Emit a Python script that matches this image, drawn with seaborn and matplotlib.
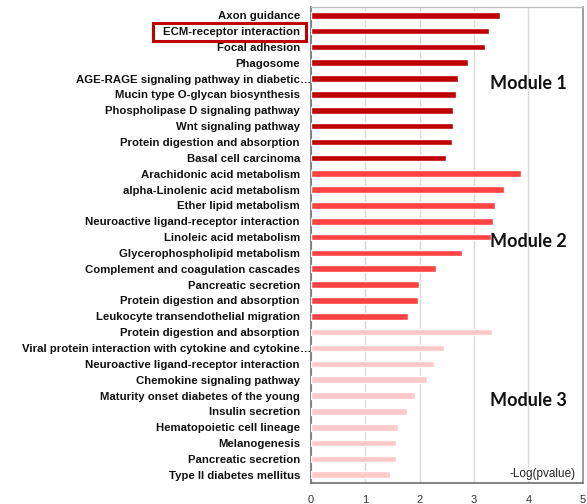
import matplotlib
matplotlib.use("Agg")
import matplotlib.pyplot as plt
import seaborn as sns
import pandas as pd
from matplotlib.patches import Rectangle

# KEGG pathway enrichment per co-expression module
module1_terms = [
    "Axon guidance", "ECM-receptor interaction", "Focal adhesion", "Phagosome",
    "AGE-RAGE signaling pathway in diabetic\u2026", "Mucin type O-glycan biosynthesis",
    "Phospholipase D signaling pathway", "Wnt signaling pathway",
    "Protein digestion and absorption", "Basal cell carcinoma",
]
module1_values = [3.47, 3.28, 3.20, 2.89, 2.71, 2.67, 2.62, 2.62, 2.60, 2.48]

module2_terms = [
    "Arachidonic acid metabolism", "alpha-Linolenic acid metabolism",
    "Ether lipid metabolism", "Neuroactive ligand-receptor interaction",
    "Linoleic acid metabolism", "Glycerophospholipid metabolism",
    "Complement and coagulation cascades", "Pancreatic secretion",
    "Protein digestion and absorption", "Leukocyte transendothelial migration",
]
module2_values = [3.87, 3.55, 3.38, 3.35, 3.32, 2.77, 2.30, 1.99, 1.97, 1.78]

module3_terms = [
    "Protein digestion and absorption",
    "Viral protein interaction with cytokine and cytokine\u2026",
    "Neuroactive ligand-receptor interaction", "Chemokine signaling pathway",
    "Maturity onset diabetes of the young", "Insulin secretion",
    "Hematopoietic cell lineage", "Melanogenesis", "Pancreatic secretion",
    "Type II diabetes mellitus",
]
module3_values = [3.33, 2.45, 2.27, 2.14, 1.92, 1.76, 1.61, 1.57, 1.57, 1.46]

module_names = ["Module 1", "Module 2", "Module 3"]
module_colors = ["#C00000", "#FF4242", "#FFC9C9"]
x_ticks = [0, 1, 2, 3, 4, 5]
highlight_term = "ECM-receptor interaction"
ELLIPSIS = "\u2026"

terms = module1_terms + module2_terms + module3_terms
values = module1_values + module2_values + module3_values
modules = ([module_names[0]] * len(module1_terms) + [module_names[1]] * len(module2_terms)
           + [module_names[2]] * len(module3_terms))
df = pd.DataFrame({"term": terms, "value": values, "module": modules})
df["key"] = [f"{i:02d}" for i in range(len(df))]

sns.set_style("white")
plt.rcParams["font.family"] = ["Liberation Sans", "DejaVu Sans"]

fig = plt.figure(figsize=(5.87, 5.04), dpi=100)
ax = fig.add_axes([0.5298, 0.0423, 0.4629, 0.9432])

sns.barplot(data=df, x="value", y="key", hue="module", orient="h",
            palette=dict(zip(module_names, module_colors)), dodge=False,
            width=0.42, saturation=1, legend=False, ax=ax, zorder=3)

ax.set_xlim(0, 5)
ax.set_ylim(len(df) - 0.5, -0.5)
ax.set_xticks(x_ticks)
ax.set_xticklabels([str(t) for t in x_ticks], fontsize=8, color="#333333")
ax.set_yticks(range(len(df)))
# truncated names: the ellipsis is drawn separately so it overhangs the axis
shown = [t[:-1] if t.endswith(ELLIPSIS) else t for t in df["term"]]
ax.set_yticklabels(shown, fontsize=8.2, fontweight="bold", color="#111111")
ax.tick_params(axis="y", length=0, pad=8)
ax.tick_params(axis="x", length=0, pad=9)
ax.set_xlabel("")
ax.set_ylabel("")
ax.grid(axis="x", color="#d9d9d9", linewidth=1, zorder=0)
ax.set_axisbelow(True)

for side in ("left", "bottom"):
    ax.spines[side].set_color("#6f6f6f")
    ax.spines[side].set_linewidth(1.2)
ax.spines["top"].set_color("#bfbfbf")
ax.spines["top"].set_linewidth(1)
ax.spines["right"].set_color("#8c8c8c")
ax.spines["right"].set_linewidth(1.2)

# module labels placed beside each block of bars
for name, center in zip(module_names, [4.3, 14.3, 24.3]):
    ax.text(4.0, center, name, fontsize=13, fontweight="bold", family="Lato",
            ha="center", va="center", color="#111111", zorder=5)

ax.text(4.87, 28.95, "-Log(pvalue)", fontsize=8.5, ha="right", va="center",
        color="#222222", zorder=2.4,
        bbox=dict(boxstyle="square,pad=0.05", facecolor="white", edgecolor="none"))

fig.canvas.draw()
renderer = fig.canvas.get_renderer()
for lbl, full in zip(ax.get_yticklabels(), df["term"]):
    bb = lbl.get_window_extent(renderer)
    if full.endswith(ELLIPSIS):
        fig.text(bb.x1, (bb.y0 + bb.y1) / 2, ELLIPSIS, transform=None,
                 fontsize=8.2, fontweight="bold", color="#111111",
                 ha="left", va="center", zorder=6)
    if lbl.get_text() == highlight_term:
        # frame around the highlighted pathway label
        px, py = 10, 4
        fig.patches.append(Rectangle((bb.x0 - px, bb.y0 - py), bb.width + 2 * px - 4,
                                     bb.height + 2 * py, transform=None,
                                     fill=False, edgecolor="#C00000", linewidth=2.2))

fig.savefig("out.png", dpi=100)
